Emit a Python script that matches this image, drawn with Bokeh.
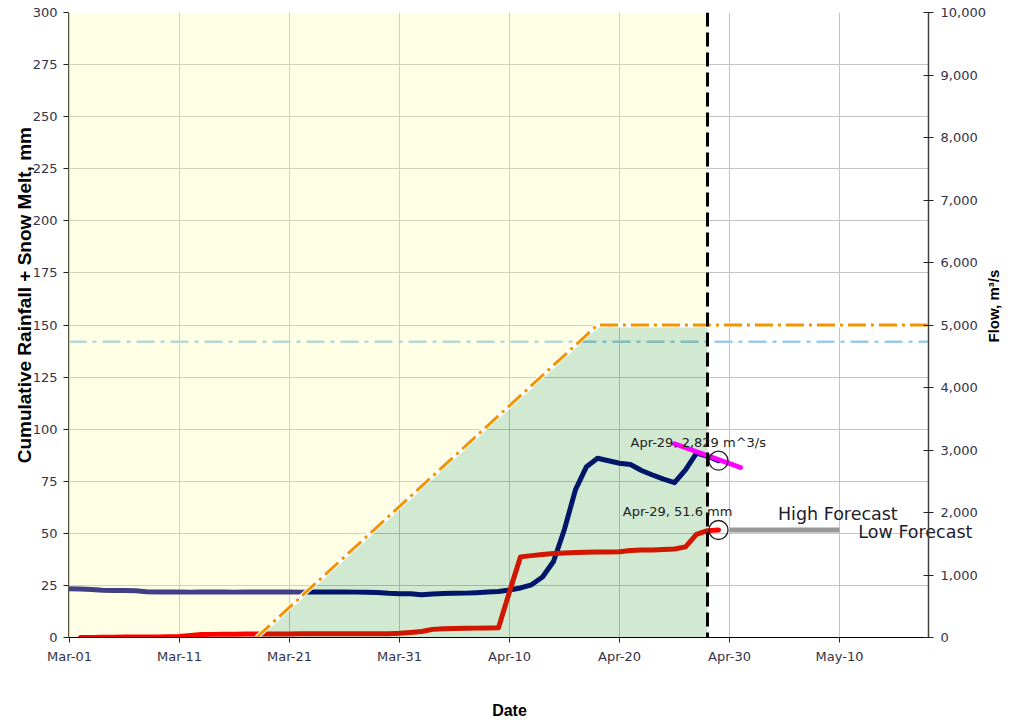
from math import pi

import pandas as pd
from bokeh.plotting import figure
from bokeh.models import (Range1d, LinearAxis, FixedTicker, SingleIntervalTicker,
                          DatetimeTickFormatter, NumeralTickFormatter, Label, Span)
from bokeh.embed import file_html
from bokeh.resources import INLINE

# ---------------------------------------------------------------- data
# Observed daily flow at the gauge, m^3/s (Mar-01 .. Apr-29)
flow_dates = pd.date_range("2011-03-01", "2011-04-29", freq="D")
flow_cms = [
    780, 777, 767, 757, 753, 753, 747, 733, 728, 727,
    727, 726, 727, 728, 727, 726, 727, 727, 728, 727,
    727, 726, 727, 728, 727, 727, 726, 724, 720, 707, 700,
    700, 683, 697, 703, 707, 710, 717, 727, 737, 760,
    793, 843, 967, 1217, 1733, 2367, 2733, 2867, 2827, 2787,
    2767, 2673, 2600, 2533, 2477, 2683, 2950, 2900, 2829,
]

# Cumulative rainfall + snow melt, mm (Mar-02 .. Apr-29)
rain_dates = pd.date_range("2011-03-02", "2011-04-29", freq="D")
rain_mm = [
    0.0, 0.0, 0.1, 0.1, 0.2, 0.2, 0.3, 0.3, 0.4, 0.5,
    1.0, 1.4, 1.5, 1.6, 1.6, 1.7, 1.7, 1.7, 1.7, 1.7,
    1.8, 1.8, 1.8, 1.8, 1.8, 1.8, 1.8, 1.8, 1.8, 2.0,
    2.4, 2.9, 3.9, 4.2, 4.3, 4.4, 4.5, 4.6, 4.7, 22.0,
    38.7, 39.3, 39.8, 40.3, 40.6, 40.8, 40.9, 41.0, 41.0, 41.2,
    41.8, 42.0, 42.0, 42.2, 42.5, 43.5, 49.5, 51.3, 51.6,
]

# Rain + melt envelope (dash-dot orange)
envelope_dates = pd.to_datetime(["2011-03-18", "2011-04-18", "2011-05-18"])
envelope_mm = [0, 150, 150]

# Reference level (light blue)
threshold_mm = 142

# Date of the latest observation (vertical dashed line)
today = pd.Timestamp("2011-04-28")

# Flow trend
trend_dates = pd.to_datetime(["2011-04-25", "2011-05-01"])
trend_cms = [3100, 2720]

# Low forecast of cumulative rainfall + melt
low_fc_dates = pd.to_datetime(["2011-04-30", "2011-05-10"])
low_fc_mm = [rain_mm[-1], rain_mm[-1]]

tick_dates = pd.date_range("2011-03-01", periods=8, freq="10D")

# ---------------------------------------------------------------- helpers
EPOCH = pd.Timestamp("1970-01-01")
DAY = pd.Timedelta(days=1)
start = pd.Timestamp("2011-03-01")


def ms(ts):
    return (ts - EPOCH) / pd.Timedelta(milliseconds=1)


def at_day(d):
    """Data x (ms) for a fractional day offset from Mar-01."""
    return ms(start + DAY * d)


x0 = start - DAY / 11
x1 = x0 + DAY * 860 / 11

TICK_FONT = "DejaVu Sans"
TICK_COLOR = "#333348"
TITLE_FONT = "Liberation Sans"

p = figure(width=1013, height=723, x_axis_type="datetime",
           x_range=Range1d(x0, x1), y_range=Range1d(0, 300),
           output_backend="svg", toolbar_location=None,
           min_border_left=68, min_border_right=85,
           min_border_top=12, min_border_bottom=86,
           background_fill_color="white", border_fill_color="white",
           outline_line_color=None)
p.extra_y_ranges = {"flow": Range1d(0, 10000)}

# ---------------------------------------------------------------- axes
p.xaxis.ticker = FixedTicker(ticks=[ms(t) for t in tick_dates])
p.xaxis.formatter = DatetimeTickFormatter(
    days="%b-%d", months="%b-%d", hours="%b-%d", years="%b-%d")
p.xaxis.axis_line_color = "black"
p.xaxis.major_tick_in = 0
p.xaxis.major_tick_out = 5
p.xaxis.minor_tick_line_color = None
p.xaxis.major_label_standoff = 6

p.yaxis.ticker = SingleIntervalTicker(interval=25, num_minor_ticks=0)
p.yaxis.axis_line_color = "#55553f"
p.yaxis.major_tick_in = 0
p.yaxis.major_tick_out = 5
p.yaxis.major_label_standoff = 6

flow_axis = LinearAxis(y_range_name="flow",
                       ticker=SingleIntervalTicker(interval=1000, num_minor_ticks=0),
                       formatter=NumeralTickFormatter(format="0,0"))
flow_axis.axis_line_color = "#404040"
flow_axis.axis_line_width = 1.5
flow_axis.major_tick_in = 5
flow_axis.major_tick_out = 5
flow_axis.major_label_standoff = 7
p.add_layout(flow_axis, "right")

for ax in (p.xaxis[0], p.yaxis[0], flow_axis):
    ax.major_label_text_font = TICK_FONT
    ax.major_label_text_font_size = "13px"
    ax.major_label_text_color = TICK_COLOR
    ax.major_tick_line_color = "#222222"


def text_axis(tick, text, standoff, font, size, style="normal", color="black",
              orientation="horizontal", **kw):
    """A bare axis that carries one piece of text as its only tick label."""
    return LinearAxis(ticker=FixedTicker(ticks=[tick]),
                      major_label_overrides={tick: text},
                      major_label_orientation=orientation,
                      major_label_standoff=standoff,
                      major_label_text_font=font,
                      major_label_text_font_size=size,
                      major_label_text_font_style=style,
                      major_label_text_color=color,
                      axis_line_color=None, major_tick_line_color=None,
                      minor_tick_line_color=None,
                      major_tick_in=0, major_tick_out=0, **kw)


# axis titles
p.add_layout(text_axis(245.0, "Cumulative Rainfall + Snow Melt, mm", 5,
                       TITLE_FONT, "19px", "bold", orientation=pi / 2), "left")
p.add_layout(text_axis(141.6, "Flow, m³/s", 5, TITLE_FONT, "15px", "bold",
                       orientation=pi / 2), "right")
p.add_layout(text_axis(at_day(40.0), "Date", 35, TITLE_FONT, "16px", "bold"), "below")

# forecast label, lifted from the bottom panel up beside the forecast line
p.add_layout(text_axis(at_day(76.9), "Low Forecast", -200, TICK_FONT, "17.5px",
                       color="#1c1c30"), "below")

p.xgrid.grid_line_color = "#c4c4c4"
p.ygrid.grid_line_color = "#c4c4c4"

# ---------------------------------------------------------------- glyphs
# reference level, drawn beneath the shaded regions
p.line([x0, x1], [threshold_mm, threshold_mm], line_color="#9ccbea",
       line_width=2.5, line_dash="18 6 4 6")

# observed flow
p.line(flow_dates, flow_cms, y_range_name="flow", line_color="#000080",
       line_width=5, line_join="round", line_cap="round")

# pale yellow wash over the period up to today (outside the envelope)
yellow_x = [x0, envelope_dates[0], envelope_dates[1], today, today, x0]
yellow_y = [0, envelope_mm[0], envelope_mm[1], envelope_mm[1], 300, 300]
p.patch(yellow_x, yellow_y, fill_color="#ffff99", fill_alpha=0.25, line_color=None)

# cumulative rainfall + melt
p.line(rain_dates, rain_mm, line_color="#ff0000", line_width=5,
       line_join="round", line_cap="round")

# green wash under the envelope up to today
green_x = [envelope_dates[0], envelope_dates[1], today, today]
green_y = [envelope_mm[0], envelope_mm[1], envelope_mm[1], 0]
p.patch(green_x, green_y, fill_color="green", fill_alpha=0.18, line_color=None)

# envelope line with a white halo
p.line(envelope_dates, envelope_mm, line_color="white", line_width=5)
p.line(envelope_dates, envelope_mm, line_color="#f29500", line_width=3,
       line_dash="18 5 3 5")

# today marker
p.add_layout(Span(location=ms(today), dimension="height", line_color="black",
                  line_width=3, line_dash="14 6"))

# flow trend and low forecast
p.line(trend_dates, trend_cms, y_range_name="flow", line_color="#ff00ff",
       line_width=5, line_cap="round")
p.line(low_fc_dates, low_fc_mm, line_color="#999999", line_width=5)

# latest observation markers
p.scatter([flow_dates[-1]], [flow_cms[-1]], y_range_name="flow", size=19,
          marker="circle", fill_color=None, line_color="#222222", line_width=1.3)
p.scatter([rain_dates[-1]], [rain_mm[-1]], size=19, marker="circle",
          fill_color=None, line_color="#222222", line_width=1.3)

# ---------------------------------------------------------------- labels
last_day = flow_dates[-1].strftime("%b-%d")
p.add_layout(Label(x=at_day(51.0), y=93.6,
                   text=f"{last_day}, {flow_cms[-1]:,} m^3/s",
                   text_font=TICK_FONT, text_font_size="13px", text_color="#222222",
                   text_baseline="alphabetic"))
p.add_layout(Label(x=at_day(50.3), y=60.5,
                   text=f"{last_day}, {rain_mm[-1]:.1f} mm",
                   text_font=TICK_FONT, text_font_size="13px", text_color="#222222",
                   text_baseline="alphabetic"))
p.add_layout(Label(x=at_day(64.4), y=59.5, text="High Forecast",
                   text_font=TICK_FONT, text_font_size="17.5px", text_color="#1c1c30",
                   text_baseline="alphabetic"))

open("out.html", "w").write(file_html(p, INLINE))
